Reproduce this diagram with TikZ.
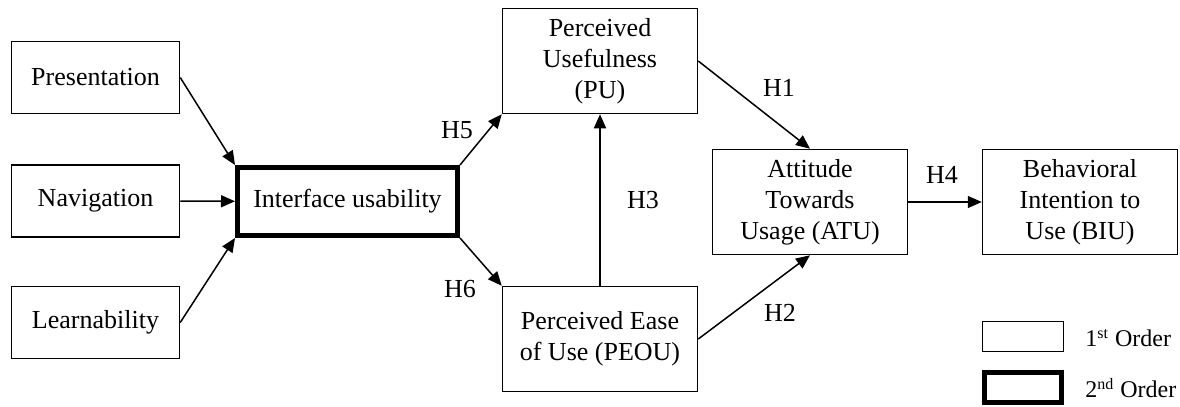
\documentclass[tikz,border=0pt]{standalone}
\usepackage{fontspec}
\setmainfont{Liberation Serif}
\usetikzlibrary{arrows.meta}
\tikzstyle{every picture}+=[x=0.5pt,y=-0.5pt]

\begin{document}
\begin{tikzpicture}[font=\fontsize{13}{15.5}\selectfont,
>={Triangle[length=7pt,width=6pt]},
box/.style={draw, line width=0.75pt, align=center, inner sep=1pt},
order1/.style={box, minimum width=84pt, minimum height=36pt},
order2/.style={box, line width=2.5pt, minimum width=110pt, minimum height=34pt},
construct/.style={box, minimum width=97.5pt, minimum height=52.5pt},
link/.style={->, line width=0.75pt},
hyp/.style={inner sep=0pt},
keytext/.style={anchor=west, inner sep=0pt, font=\fontsize{12}{14}\selectfont}]
\useasboundingbox (0,0) rectangle (1180,407);
\node[order1] (pres) at (95.5,77.5) {Presentation};
\node[order1] (nav) at (95.5,201) {Navigation};
\node[order1] (learn) at (95.5,322.5) {Learnability};
\node[order2] (iu) at (347.5,201.5) {Interface usability};
\node[construct] (pu) at (600,61) {Perceived\\Usefulness\\(PU)};
\node[construct] (peou) at (600,339) {Perceived Ease\\of Use (PEOU)};
\node[construct] (atu) at (810,202) {Attitude\\Towards\\Usage (ATU)};
\node[construct] (biu) at (1080,202) {Behavioral\\Intention to\\Use (BIU)};
\draw[link] (pres.east) -- (iu.north west);
\draw[link] (nav) -- (iu);
\draw[link] (learn.east) -- (iu.south west);
\draw[link] (iu.north east) -- (pu.south west);
\draw[link] (iu.south east) -- (peou.north west);
\draw[link] (peou) -- (pu);
\draw[link] (pu.east) -- (atu.north);
\draw[link] (peou.east) -- (atu.south);
\draw[link] (atu) -- (biu);
\node[hyp] (h5) at (457,130) {H5};
\node[hyp] (h6) at (460,289) {H6};
\node[hyp] (h3) at (643,200) {H3};
\node[hyp] (h1) at (779,88) {H1};
\node[hyp] (h2) at (780,313) {H2};
\node[hyp] (h4) at (942,175) {H4};
\node[box, minimum width=40.5pt, minimum height=15pt] (key1) at (1023,336.5) {};
\node[box, line width=2.5pt, minimum width=38.5pt, minimum height=15pt] (key2) at (1023,387.5) {};
\node[keytext] (lab1) at (1085,338) {1\textsuperscript{st} Order};
\node[keytext] (lab2) at (1085,388) {2\textsuperscript{nd} Order};
\end{tikzpicture}
\end{document}
